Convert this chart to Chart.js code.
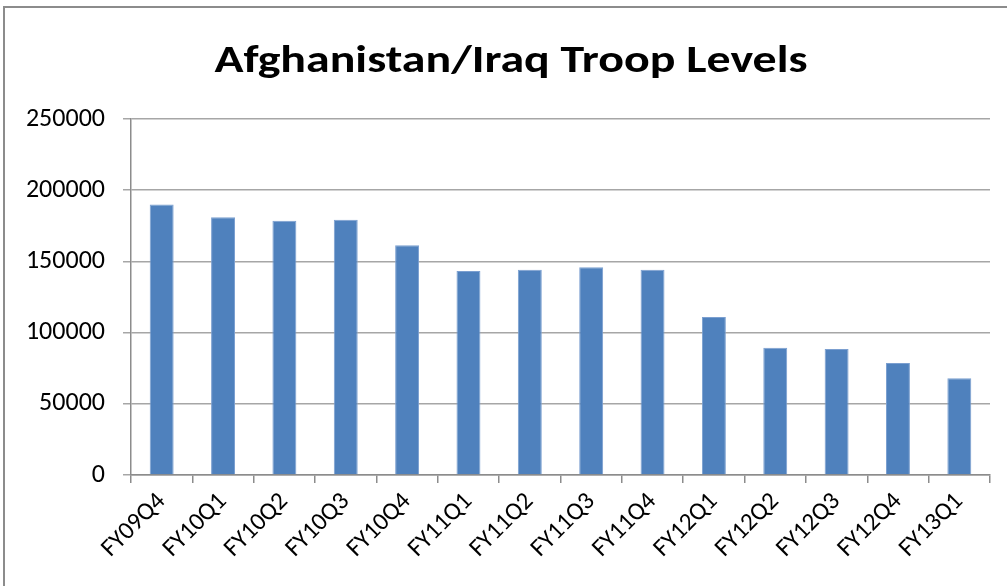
<!doctype html>
<html>
  <head>
    <meta charset="utf-8">
    <title>Afghanistan/Iraq Troop Levels</title>
    <style>
      html, body {
        margin: 0;
        background: #fff;
        width: 1007px;
        height: 586px;
        overflow: hidden;
      }
      #frame {
        position: absolute;
        left: 3px;
        top: 6px;
        width: 1020px;
        height: 600px;
        border: 2px solid #8c8c8c;
        box-sizing: border-box;
      }
      #wrap {
        position: absolute;
        left: 0;
        top: 0;
        width: 1007px;
        height: 586px;
      }
    </style>
  </head>
  <body>
    <div id="frame"></div>
    <div id="wrap"><canvas id="canvas"></canvas></div>

    <script src="https://cdn.jsdelivr.net/npm/chart.js@4/dist/chart.umd.min.js"></script>
    <script>
      var titleText = 'Afghanistan/Iraq Troop Levels'
      var quarters = ['FY09Q4', 'FY10Q1', 'FY10Q2', 'FY10Q3', 'FY10Q4', 'FY11Q1', 'FY11Q2',
                      'FY11Q3', 'FY11Q4', 'FY12Q1', 'FY12Q2', 'FY12Q3', 'FY12Q4', 'FY13Q1']
      var troops = [190000, 181000, 178500, 179300, 161300, 143300, 144200,
                    145900, 144200, 111000, 89400, 88500, 78700, 67900]
      var yTicks = [0, 50000, 100000, 150000, 200000, 250000]

      var fontFace = 'Carlito, Calibri, Lato, "Liberation Sans", sans-serif'

      // the original title is a wide-looking Calibri, so draw it a bit stretched
      var stretchedTitle = {
        id: 'stretchedTitle',
        afterDraw: function(chart) {
          var c = chart.ctx
          c.save()
          c.font = 'bold 38px ' + fontFace
          c.fillStyle = '#000'
          c.textAlign = 'center'
          c.textBaseline = 'alphabetic'
          c.translate(511, 72)
          c.scale(1.26, 1)
          c.fillText(titleText, 0, 0)
          c.restore()
        }
      }

      var ctx = document.getElementById('canvas').getContext('2d')
      window.my_chart = new Chart(ctx, {
        type: 'bar',
        data: {
          labels: quarters,
          datasets: [{
            label: 'Troops',
            data: troops,
            backgroundColor: '#4f81bd',
            borderColor: '#7b9fd0',
            borderWidth: 1,
            barPercentage: 0.39,
            categoryPercentage: 1
          }]
        },
        plugins: [stretchedTitle],
        options: {
          responsive: true,
          maintainAspectRatio: false,
          animation: false,
          layout: {
            padding: { left: 13, right: 17, top: 119, bottom: 0 }
          },
          plugins: {
            legend: { display: false },
            tooltip: { enabled: false },
            title: { display: false }
          },
          scales: {
            x: {
              offset: true,
              grid: {
                display: true,
                drawOnChartArea: false,
                offset: true,
                color: '#8c8c8c',
                tickLength: 8,
                lineWidth: 1.5
              },
              border: { color: '#8c8c8c', width: 1.5 },
              ticks: {
                color: '#000',
                font: { family: fontFace, size: 25 },
                maxRotation: 45,
                minRotation: 45,
                padding: 4
              },
              afterFit: function(scale) { scale.height = 111 }
            },
            y: {
              min: 0,
              max: 250000,
              afterBuildTicks: function(scale) {
                scale.ticks = yTicks.map(function(v) { return { value: v } })
              },
              grid: {
                color: '#a6a6a6',
                lineWidth: 1.5,
                tickLength: 8
              },
              border: { color: '#8c8c8c', width: 1.5 },
              ticks: {
                color: '#000',
                font: { family: fontFace, size: 26 },
                padding: 18,
                callback: function(v) { return String(v) }
              },
              afterFit: function(scale) { scale.width = 118 }
            }
          }
        }
      })
    </script>
  </body>
</html>
